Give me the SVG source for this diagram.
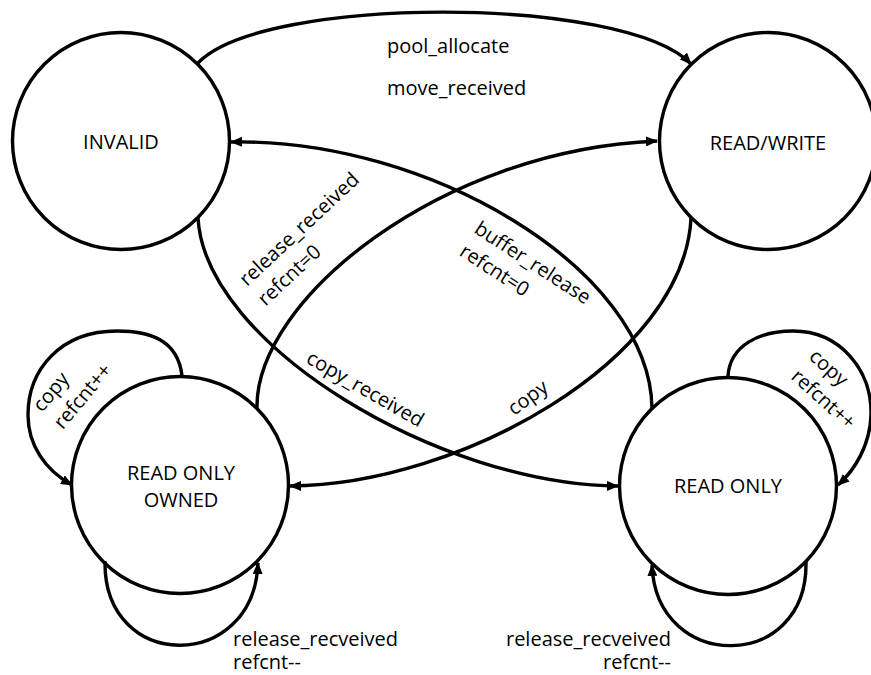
<svg xmlns="http://www.w3.org/2000/svg" width="871" height="675" viewBox="0 0 871 675">
  <defs>
    <style>
      .state { fill: none; stroke: #000; stroke-width: 3.4; }
      .edge { fill: none; stroke: #000; stroke-width: 3.4; marker-end: url(#arrow); }
      text { font-family: "Open Sans", "Liberation Sans", sans-serif; font-size: 20px; fill: #000; }
      .mid { text-anchor: middle; }
      .end { text-anchor: end; }
    </style>
    <marker id="arrow" markerUnits="userSpaceOnUse" markerWidth="12" markerHeight="10" refX="11" refY="5" orient="auto">
      <path d="M0,0 L12,5 L0,10 Z" fill="#000"/>
    </marker>
  </defs>

  <rect width="871" height="675" fill="#fff"/>

  <!-- states -->
  <g id="invalid">
    <circle class="state" cx="121" cy="141" r="108.5"/>
    <text class="mid" x="121" y="149">INVALID</text>
  </g>
  <g id="read-write">
    <circle class="state" cx="768" cy="141" r="108.5"/>
    <text class="mid" x="768" y="150">READ/WRITE</text>
  </g>
  <g id="read-only-owned">
    <circle class="state" cx="180" cy="485" r="108.5"/>
    <text class="mid" x="181" y="480">READ ONLY</text>
    <text class="mid" x="181" y="507">OWNED</text>
  </g>
  <g id="read-only">
    <circle class="state" cx="728" cy="486" r="108.5"/>
    <text class="mid" x="728" y="493">READ ONLY</text>
  </g>

  <!-- transitions -->
  <g id="connectors">
    <path class="edge" d="M198,63 C262,-5 625,-5 691,64"/>
    <path class="edge" d="M652,408 C650,270 430,138 231,142"/>
    <path class="edge" d="M198,218 C205,345 440,485 618,486"/>
    <path class="edge" d="M257,408 C255,300 440,150 657,141"/>
    <path class="edge" d="M691,218 C684,360 460,485 290,486"/>
    <path class="edge" d="M182,376 C178,340 150,331 117,331 C60,331 28,370 28,415 C28,445 45,470 72,485"/>
    <path class="edge" d="M105,561 C103,673 254,673 258,563"/>
    <path class="edge" d="M728,376 C730,345 760,331 793,331 C840,331 872,370 871,415 C870,445 855,470 838,485"/>
    <path class="edge" d="M806,562 C808,673 656,673 652,565"/>
  </g>

  <!-- transition labels -->
  <g id="labels">
    <text x="387" y="53">pool_allocate</text>
    <text x="387" y="95">move_received</text>
    <g transform="translate(247,287) rotate(-43)">
      <text x="0" y="0">release_received</text>
      <text x="0" y="27">refcnt=0</text>
    </g>
    <g transform="translate(473,232) rotate(33)">
      <text x="0" y="0">buffer_release</text>
      <text x="0" y="27">refcnt=0</text>
    </g>
    <text transform="translate(305,362) rotate(30)">copy_received</text>
    <text transform="translate(514,416) rotate(-36)">copy</text>
    <g transform="translate(42,413) rotate(-50)">
      <text x="0" y="0">copy</text>
      <text x="0" y="27">refcnt++</text>
    </g>
    <g transform="translate(808,358) rotate(42)">
      <text x="0" y="0">copy</text>
      <text x="0" y="27">refcnt++</text>
    </g>
    <text x="233" y="646">release_recveived</text>
    <text x="233" y="669">refcnt--</text>
    <text class="end" x="671" y="646">release_recveived</text>
    <text class="end" x="671" y="669">refcnt--</text>
  </g>
</svg>
